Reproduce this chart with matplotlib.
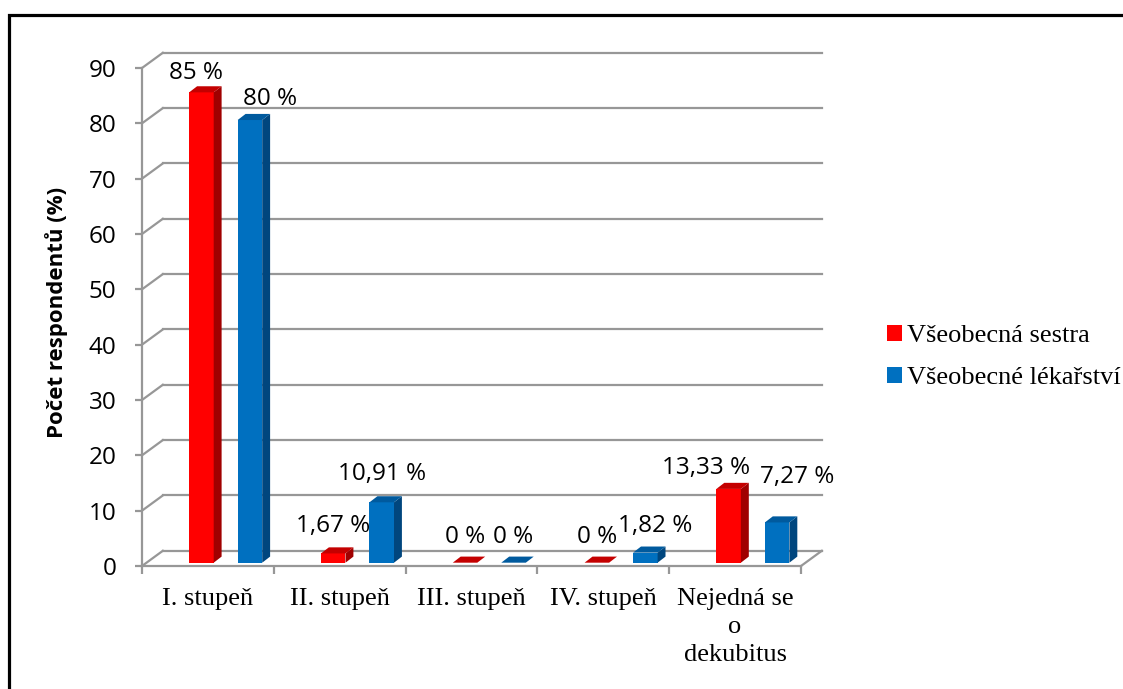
import numpy as np
import matplotlib
matplotlib.use("Agg")
import matplotlib.pyplot as plt
from matplotlib.patches import Polygon, Rectangle

# data
categories = ["I. stupeň", "II. stupeň", "III. stupeň", "IV. stupeň", "Nejedná se\no\ndekubitus"]
sestra = [85, 1.67, 0, 0, 13.33]
lekarstvi = [80, 10.91, 0, 1.82, 7.27]
series_names = ["Všeobecná sestra", "Všeobecné lékařství"]
y_ticks = list(range(0, 100, 10))

# label nudges in pixels (dx, dy above the bar top)
sestra_lbl = [(-5, 19), (0, 27), (0, 26), (0, 26), (-23, 21)]
lekarstvi_lbl = [(20, 21), (0, 28), (0, 26), (10, 27), (20, 45)]

RED, RED_SIDE, RED_TOP = "#ff0000", "#a00000", "#c40000"
BLUE, BLUE_SIDE, BLUE_TOP = "#0070c0", "#00467e", "#005a9e"
GRID = "#979797"

SANS = "Open Sans"
SERIF = "Liberation Serif"
NUM_SIZE = 17.5

# fake 3d geometry (data units)
BACK_DX, BACK_DY = 0.158, 2.75     # back wall offset
BAR_DX, BAR_DY = 0.06, 1.1         # bar side / top depth
BAR_W = 0.186
BASE = 0.6


def fmt(v):
    return f"{v:g}".replace(".", ",") + " %"


def draw_bars(ax, xs, vals, front, side, top, nudges):
    bars = ax.bar(xs, vals, BAR_W, bottom=BASE, color=front, zorder=3, linewidth=0)
    for x, v, (ndx, ndy) in zip(xs, vals, nudges):
        l, r = x - BAR_W / 2, x + BAR_W / 2
        t = BASE + v
        ax.add_patch(Polygon([(r, BASE), (r + BAR_DX, BASE + BAR_DY),
                              (r + BAR_DX, t + BAR_DY), (r, t)],
                             closed=True, fc=side, ec="none", zorder=3))
        ax.add_patch(Polygon([(l, t), (l + BAR_DX, t + BAR_DY),
                              (r + BAR_DX, t + BAR_DY), (r, t)],
                             closed=True, fc=top, ec="none", zorder=3))
        ax.annotate(fmt(v), (x, t), xytext=(ndx, ndy), textcoords="offset pixels",
                    ha="center", va="center", fontsize=NUM_SIZE, family=SANS, zorder=5)
    return bars


fig = plt.figure(figsize=(11.23, 6.89), dpi=100)
ax = fig.add_axes([142 / 1123, 1 - 566 / 689, 659 / 1123, 498 / 689])

n = len(categories)
x = np.arange(n) + 0.5
ax.set_xlim(0, n)
ax.set_ylim(0, 90)

# back wall gridlines and left-wall diagonals
for v in y_ticks:
    ax.plot([BACK_DX, n + BACK_DX], [v + BACK_DY, v + BACK_DY], color=GRID,
            lw=1.6, clip_on=False, zorder=1)
    ax.plot([0, BACK_DX], [v, v + BACK_DY], color=GRID, lw=1.6, clip_on=False, zorder=1)
# floor right edge
ax.plot([n, n + BACK_DX], [0, BACK_DY], color=GRID, lw=1.6, clip_on=False, zorder=1)

b1 = draw_bars(ax, x - 0.049, sestra, RED, RED_SIDE, RED_TOP, sestra_lbl)
b2 = draw_bars(ax, x + 0.319, lekarstvi, BLUE, BLUE_SIDE, BLUE_TOP, lekarstvi_lbl)
for p in list(ax.patches) + list(ax.texts):
    p.set_clip_on(False)

for s in ["top", "right"]:
    ax.spines[s].set_visible(False)
for s in ["left", "bottom"]:
    ax.spines[s].set_color(GRID)
    ax.spines[s].set_linewidth(1.6)

ax.set_yticks(y_ticks)
ax.tick_params(axis="y", length=5, width=1.6, color=GRID, pad=13.5, labelsize=NUM_SIZE)
for lbl in ax.get_yticklabels():
    lbl.set_family(SANS)

ax.set_xticks(x)
ax.set_xticklabels(categories, family=SERIF, fontsize=19, linespacing=1.35, va="top")
ax.set_xticks(np.arange(n + 1), minor=True)
ax.tick_params(axis="x", which="major", length=0, pad=16)
ax.tick_params(axis="x", which="minor", length=6, width=1.6, color=GRID)

ax.set_ylabel("Počet respondentů (%)", family=SANS, fontweight="bold", fontsize=16)
ax.yaxis.set_label_coords(-0.112, 0.51)

ax.legend([b1, b2], series_names, loc="center left",
          bbox_to_anchor=(863 / 1123, 1 - 357 / 689), bbox_transform=fig.transFigure,
          frameon=False, prop={"family": SERIF, "size": 19},
          handlelength=0.58, handleheight=0.58, handletextpad=0.2, labelspacing=0.75)

# outer frame
fig.patches.append(Rectangle((8.5 / 1123, -0.1), 1.2, 1 - 15.5 / 689 + 0.1,
                             transform=fig.transFigure, fill=False, ec="black", lw=2.3))

fig.savefig("out.png", dpi=100)
